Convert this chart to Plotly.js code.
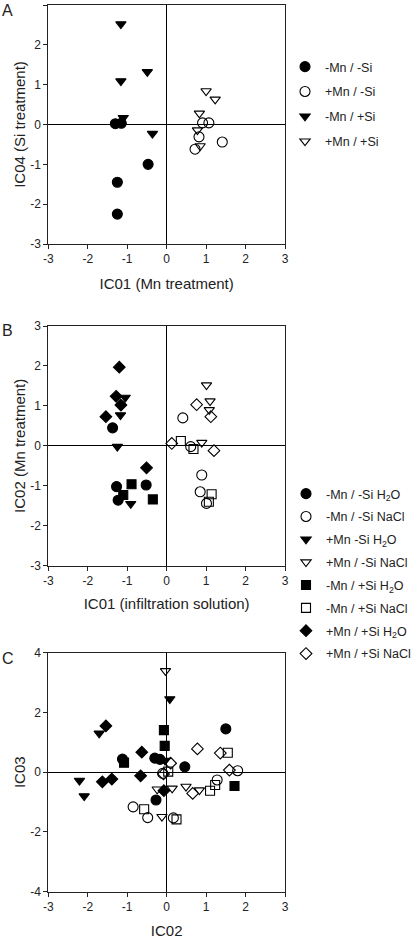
<!DOCTYPE html>
<html>
<head>
<meta charset="utf-8">
<script src="https://cdn.plot.ly/plotly-3.0.1.min.js"></script>
<style>html,body{margin:0;padding:0;background:#fff;}#chart{width:414px;height:939px;}</style>
</head>
<body>
<div id="chart"></div>
<script>
// ---------- Panel A (IC01 vs IC04) ----------
const aNames = ['-Mn / -Si', '+Mn / -Si', '-Mn / +Si', '+Mn / +Si'];
const aMnSi_x = [-1.30, -1.15, -1.25, -1.25, -0.47];
const aMnSi_y = [0.02, 0.03, -1.45, -2.25, -1.00];
const aPMnSi_x = [0.91, 1.07, 0.82, 0.72, 1.41];
const aPMnSi_y = [0.04, 0.04, -0.31, -0.62, -0.44];
const aMnPSi_x = [-1.16, -1.16, -0.49, -1.10, -0.36];
const aMnPSi_y = [2.52, 1.09, 1.32, 0.17, -0.23];
const aPMnPSi_x = [1.00, 1.23, 0.83, 0.78, 0.85];
const aPMnPSi_y = [0.84, 0.63, 0.28, -0.14, -0.54];

// ---------- Panel B (IC01 vs IC02) ----------
const bNames = ['-Mn / -Si H<sub>2</sub>O', '-Mn / -Si NaCl', '+Mn -Si H<sub>2</sub>O', '+Mn / -Si NaCl',
                '-Mn / +Si H<sub>2</sub>O', '-Mn / +Si NaCl', '+Mn / +Si H<sub>2</sub>O', '+Mn / +Si NaCl'];
const b1_x = [-1.37, -1.27, -1.23, -0.52];
const b1_y = [0.45, -1.02, -1.36, -0.98];
const b2_x = [0.41, 0.61, 0.89, 0.85, 1.01];
const b2_y = [0.70, -0.02, -0.73, -1.15, -1.44];
const b3_x = [-1.05, -1.17, -1.25, -0.91];
const b3_y = [1.21, 0.77, -0.02, -1.45];
const b4_x = [1.01, 1.10, 1.08, 0.89];
const b4_y = [1.52, 1.12, 0.90, 0.08];
const b5_x = [-0.89, -1.10, -0.35];
const b5_y = [-0.96, -1.23, -1.34];
const b6_x = [0.36, 0.68, 1.14, 1.07];
const b6_y = [0.12, -0.08, -1.21, -1.40];
const b7_x = [-1.20, -1.28, -1.16, -1.54, -0.51];
const b7_y = [1.97, 1.24, 1.02, 0.73, -0.55];
const b8_x = [0.13, 0.76, 1.12, 1.20];
const b8_y = [0.06, 1.03, 0.73, -0.12];

// ---------- Panel C (IC02 vs IC03) ----------
const c1_x = [1.50, -1.12, -0.30, -0.17, 0.46, -0.27];
const c1_y = [1.45, 0.44, 0.47, 0.43, 0.18, -0.93];
const c2_x = [-0.85, -0.48, 0.17, 1.80, 1.28, -0.10];
const c2_y = [-1.16, -1.52, -1.53, 0.05, -0.26, -0.04];
const c3_x = [0.08, -1.71, -2.21, -2.09, -0.04];
const c3_y = [2.45, 1.30, -0.28, -0.80, 0.39];
const c4_x = [-0.03, -0.24, 0.14, 0.49, 0.83, -0.12];
const c4_y = [3.39, -0.57, -0.54, -0.48, -0.60, -1.49];
const c5_x = [-0.07, -0.05, -1.08, 1.72];
const c5_y = [1.41, 0.88, 0.32, -0.46];
const c6_x = [-0.57, 0.25, 1.55, 1.10, 1.23, 0.04];
const c6_y = [-1.24, -1.58, 0.65, -0.62, -0.43, 0.02];
const c7_x = [-1.54, -0.63, -0.66, -1.63, -1.39, -0.07];
const c7_y = [1.55, 0.67, -0.12, -0.32, -0.23, -0.62];
const c8_x = [0.78, 1.36, 1.59, 0.66, 0.10, -0.08];
const c8_y = [0.78, 0.64, 0.07, -0.71, 0.30, -0.06];

const ticksAB = [-3, -2, -1, 0, 1, 2, 3];
const ticksCy = [-4, -2, 0, 2, 4];

const SYM = {
  fc: {symbol: 'circle', size: 10},
  oc: {symbol: 'circle-open', size: 10},
  ft: {symbol: 'triangle-down', size: 9},
  ot: {symbol: 'triangle-down-open', size: 9},
  fs: {symbol: 'square', size: 9},
  os: {symbol: 'square-open', size: 9},
  fd: {symbol: 'diamond', size: 9},
  od: {symbol: 'diamond-open', size: 9}
};

function tr(x, y, s, name, xa, ya, legend, showlegend, grp) {
  return {
    type: 'scatter', mode: 'markers', x: x, y: y, name: name,
    xaxis: xa, yaxis: ya, legend: legend, showlegend: showlegend, legendgroup: grp,
    marker: {symbol: s.symbol, size: s.size, color: '#000', line: {color: '#000', width: 1.1}},
    hoverinfo: 'x+y'
  };
}

const data = [
  tr(aMnSi_x, aMnSi_y, SYM.fc, aNames[0], 'x', 'y', 'legend', true, 'a1'),
  tr(aPMnSi_x, aPMnSi_y, SYM.oc, aNames[1], 'x', 'y', 'legend', true, 'a2'),
  tr(aMnPSi_x, aMnPSi_y, SYM.ft, aNames[2], 'x', 'y', 'legend', true, 'a3'),
  tr(aPMnPSi_x, aPMnPSi_y, SYM.ot, aNames[3], 'x', 'y', 'legend', true, 'a4'),

  tr(b1_x, b1_y, SYM.fc, bNames[0], 'x2', 'y2', 'legend2', true, 'b1'),
  tr(b2_x, b2_y, SYM.oc, bNames[1], 'x2', 'y2', 'legend2', true, 'b2'),
  tr(b3_x, b3_y, SYM.ft, bNames[2], 'x2', 'y2', 'legend2', true, 'b3'),
  tr(b4_x, b4_y, SYM.ot, bNames[3], 'x2', 'y2', 'legend2', true, 'b4'),
  tr(b5_x, b5_y, SYM.fs, bNames[4], 'x2', 'y2', 'legend2', true, 'b5'),
  tr(b6_x, b6_y, SYM.os, bNames[5], 'x2', 'y2', 'legend2', true, 'b6'),
  tr(b7_x, b7_y, SYM.fd, bNames[6], 'x2', 'y2', 'legend2', true, 'b7'),
  tr(b8_x, b8_y, SYM.od, bNames[7], 'x2', 'y2', 'legend2', true, 'b8'),

  tr(c1_x, c1_y, SYM.fc, bNames[0], 'x3', 'y3', 'legend2', false, 'b1'),
  tr(c2_x, c2_y, SYM.oc, bNames[1], 'x3', 'y3', 'legend2', false, 'b2'),
  tr(c3_x, c3_y, SYM.ft, bNames[2], 'x3', 'y3', 'legend2', false, 'b3'),
  tr(c4_x, c4_y, SYM.ot, bNames[3], 'x3', 'y3', 'legend2', false, 'b4'),
  tr(c5_x, c5_y, SYM.fs, bNames[4], 'x3', 'y3', 'legend2', false, 'b5'),
  tr(c6_x, c6_y, SYM.os, bNames[5], 'x3', 'y3', 'legend2', false, 'b6'),
  tr(c7_x, c7_y, SYM.fd, bNames[6], 'x3', 'y3', 'legend2', false, 'b7'),
  tr(c8_x, c8_y, SYM.od, bNames[7], 'x3', 'y3', 'legend2', false, 'b8')
];

const FONT = 'Liberation Sans, Arial, sans-serif';
const W = 414, H = 939;
const xDom = [48.3 / W, 285 / W];
function yDom(top, bottom) { return [1 - bottom / H, 1 - top / H]; }

function xaxis(title, anchor, standoff) {
  return {
    domain: xDom, anchor: anchor, range: [-3, 3], tickvals: ticksAB, ticktext: ticksAB.map(String),
    showgrid: false, zeroline: true, zerolinecolor: '#000', zerolinewidth: 1,
    showline: true, linecolor: '#222', linewidth: 1, mirror: true,
    ticks: 'outside', ticklen: 4, tickcolor: '#222', tickwidth: 1,
    tickfont: {family: FONT, size: 12, color: '#222'},
    title: {text: title, font: {family: FONT, size: 15, color: '#222'}, standoff: standoff},
    fixedrange: true
  };
}
function yaxis(title, anchor, range, tv, standoff) {
  return {
    domain: null, anchor: anchor, range: range, tickvals: tv, ticktext: tv.map(String),
    showgrid: false, zeroline: true, zerolinecolor: '#000', zerolinewidth: 1,
    showline: true, linecolor: '#222', linewidth: 1, mirror: true,
    ticks: 'outside', ticklen: 4, tickcolor: '#222', tickwidth: 1,
    tickfont: {family: FONT, size: 12, color: '#222'},
    title: {text: title, font: {family: FONT, size: 15, color: '#222'}, standoff: standoff},
    fixedrange: true
  };
}

const ya = yaxis('IC04 (Si treatment)', 'x', [-3, 3], ticksAB, 0); ya.domain = yDom(5, 244);
const yb = yaxis('IC02 (Mn treatment)', 'x2', [-3, 3], ticksAB, 0); yb.domain = yDom(326, 565.7);
const yc = yaxis('IC03', 'x3', [-4, 4], ticksCy, 0); yc.domain = yDom(652.7, 891.7);

const legendCommon = {
  font: {family: FONT, size: 12.5, color: '#222'},
  bgcolor: 'rgba(0,0,0,0)', borderwidth: 0,
  xanchor: 'left', yanchor: 'top', traceorder: 'grouped', itemclick: false, itemdoubleclick: false
};

const layout = {
  width: W, height: H,
  margin: {l: 0, r: 0, t: 0, b: 0, autoexpand: false},
  paper_bgcolor: '#fff', plot_bgcolor: '#fff',
  font: {family: FONT, color: '#222'},
  showlegend: true,
  xaxis: xaxis('IC01 (Mn treatment)', 'y', 13),
  yaxis: ya,
  xaxis2: xaxis('IC01 (infiltration solution)', 'y2', 11),
  yaxis2: yb,
  xaxis3: xaxis('IC02', 'y3', 16),
  yaxis3: yc,
  legend: Object.assign({}, legendCommon, {x: 285 / W, y: 1 - 52 / H, tracegroupgap: 5.6}),
  legend2: Object.assign({}, legendCommon, {x: 286 / W, y: 1 - 479 / H, tracegroupgap: 3.6}),
  annotations: [
    {text: 'A', x: 0, y: 1 - 0 / H, xref: 'paper', yref: 'paper', xanchor: 'left', yanchor: 'top', showarrow: false, font: {family: FONT, size: 16, color: '#222'}},
    {text: 'B', x: 0, y: 1 - 320 / H, xref: 'paper', yref: 'paper', xanchor: 'left', yanchor: 'top', showarrow: false, font: {family: FONT, size: 16, color: '#222'}},
    {text: 'C', x: 0, y: 1 - 648 / H, xref: 'paper', yref: 'paper', xanchor: 'left', yanchor: 'top', showarrow: false, font: {family: FONT, size: 16, color: '#222'}}
  ]
};

Plotly.newPlot('chart', data, layout, {displayModeBar: false, staticPlot: true});
</script>
</body>
</html>
